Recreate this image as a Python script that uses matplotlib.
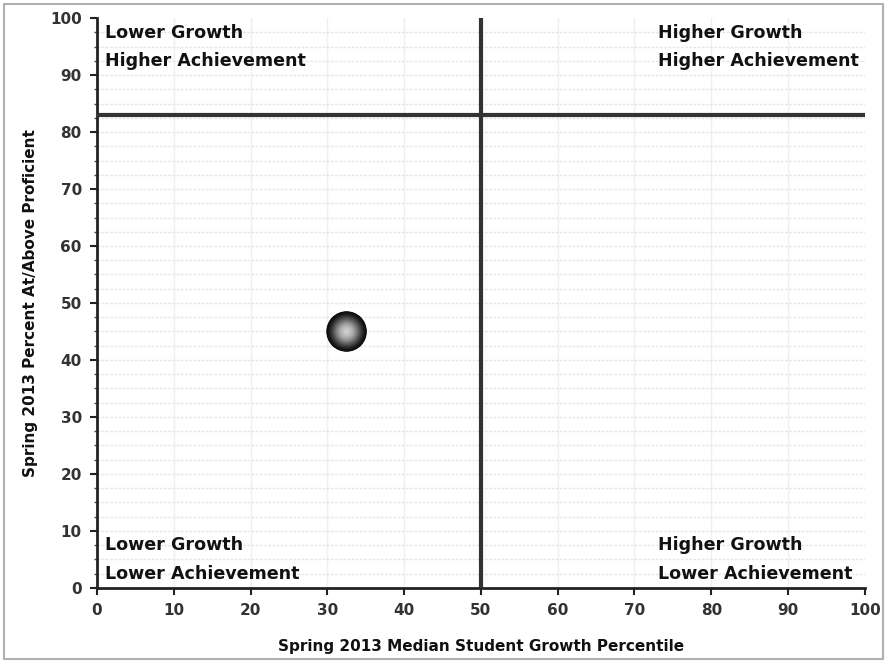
import numpy as np
import matplotlib.pyplot as plt
from matplotlib.patches import Rectangle

# --------------------------------------------------
# data
# --------------------------------------------------

growth = [32.5]        # median student growth percentile
proficient = [45]      # percent at/above proficient
growth_cut = 50
proficient_cut = 83

quadrant_labels = [
    (1, 97.4, "Lower Growth"),
    (1, 92.4, "Higher Achievement"),
    (73, 97.4, "Higher Growth"),
    (73, 92.4, "Higher Achievement"),
    (1, 7.5, "Lower Growth"),
    (1, 2.5, "Lower Achievement"),
    (73, 7.5, "Higher Growth"),
    (73, 2.5, "Lower Achievement"),
]

# --------------------------------------------------
# plot
# --------------------------------------------------

plt.rcParams["font.family"] = ["DejaVu Sans"]

fig = plt.figure(figsize=(8.87, 6.62), dpi=100)
ax = fig.add_axes([0.1094, 0.1118, 0.8656, 0.861])

# frame round the whole picture
fig.patches.append(Rectangle((0.004, 0.004), 0.992, 0.99, transform=fig.transFigure,
                             fill=False, edgecolor="#b0b0b0", linewidth=1.5))

ax.set_xlim(0, 100)
ax.set_ylim(0, 100)

# grid: faint vertical lines every 10, dashed horizontal every 2.5
for x in np.arange(10, 100, 10):
    ax.axvline(x, color="#efefef", linewidth=1.0, zorder=0)
for y in np.arange(2.5, 100, 2.5):
    ax.axhline(y, color="#e6e6e6", linewidth=1.0, linestyle=(0, (2, 1)), zorder=0)

# quadrant lines
ax.plot([growth_cut, growth_cut], [0, 100], color="#333333", linewidth=3, solid_capstyle="butt", zorder=3)
ax.plot([0, 100], [proficient_cut, proficient_cut], color="#333333", linewidth=3, zorder=3)

# shaded sphere marker
n = 26
sizes = np.linspace(850, 15, n)
shades = 0.05 + 0.75 * np.linspace(0, 1, n) ** 1.8
for size, shade in zip(sizes, shades):
    ax.scatter(growth, proficient, s=size, color=str(shade), edgecolors="none", zorder=5)

for x, y, txt in quadrant_labels:
    ax.text(x, y, txt, ha="left", va="center", fontsize=12.6, fontweight="bold", color="#111111", zorder=4)

ax.spines["top"].set_visible(False)
ax.spines["right"].set_visible(False)
for side in ["left", "bottom"]:
    ax.spines[side].set_linewidth(2)
    ax.spines[side].set_color("#222222")

ax.set_xticks(range(0, 101, 10))
ax.set_yticks(range(0, 101, 10))
ax.set_yticks(np.arange(0, 100, 2.5), minor=True)
ax.tick_params(axis="both", which="major", length=5, width=1.5, color="#222222",
               labelsize=11, labelcolor="#333333", pad=6)
ax.tick_params(axis="y", which="minor", length=2, width=1, color="#444444")
for lab in ax.get_xticklabels() + ax.get_yticklabels():
    lab.set_fontweight("bold")

ax.set_xlabel("Spring 2013 Median Student Growth Percentile", fontsize=11, fontweight="bold",
              color="#111111", labelpad=15)
ax.set_ylabel("Spring 2013 Percent At/Above Proficient", fontsize=11, fontweight="bold",
              color="#111111", labelpad=9)

plt.savefig("out.png", dpi=100)
